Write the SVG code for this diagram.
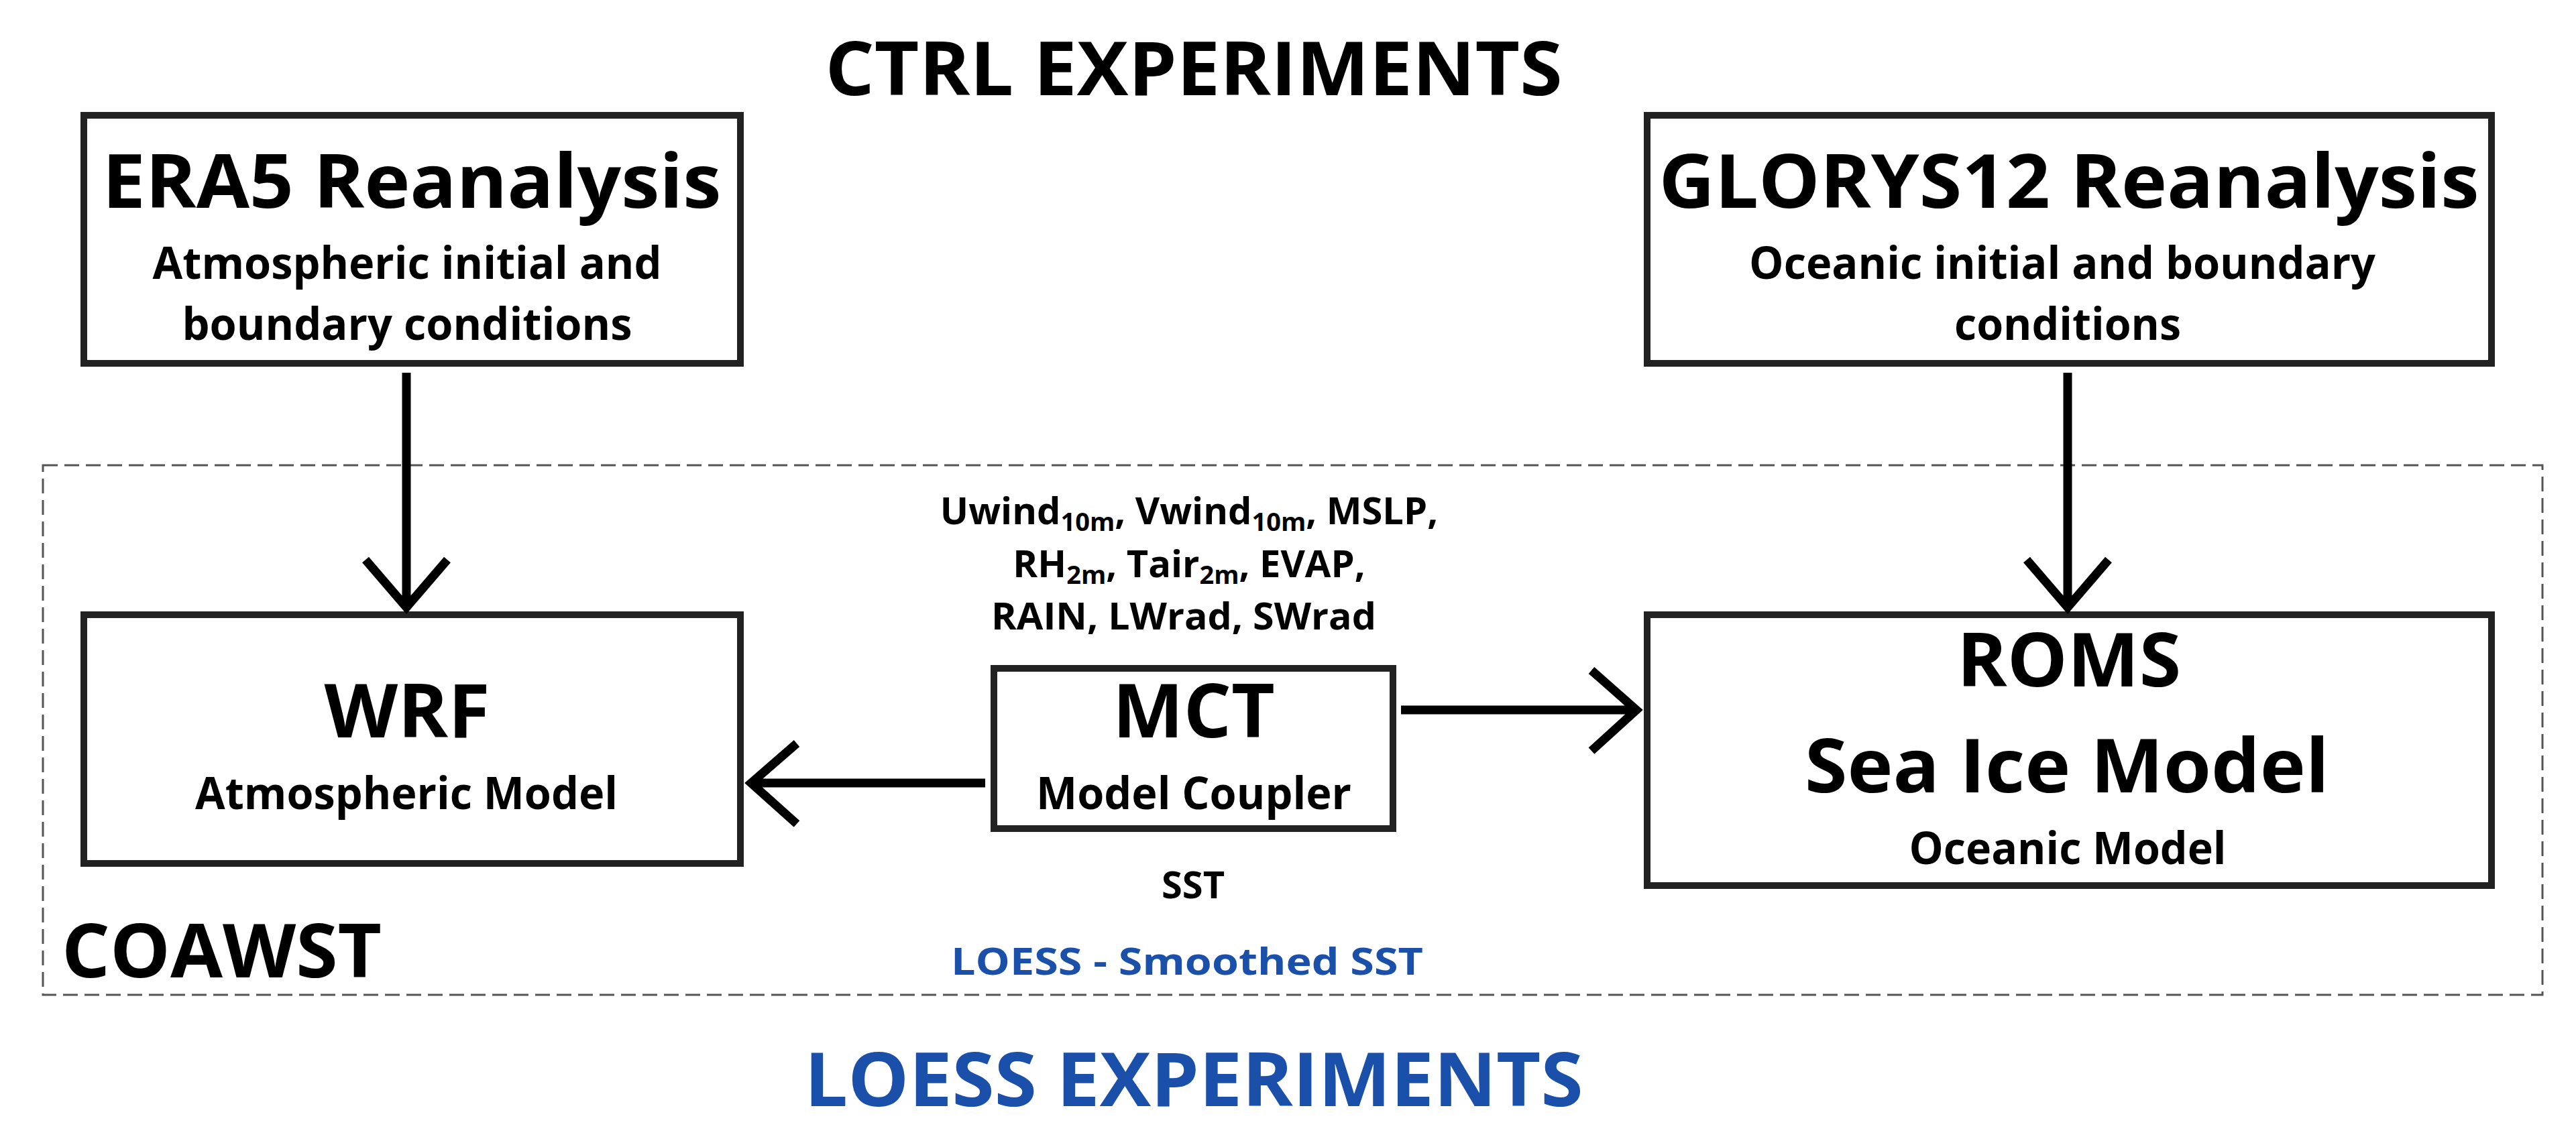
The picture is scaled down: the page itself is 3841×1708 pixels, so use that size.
<svg xmlns="http://www.w3.org/2000/svg" width="3841" height="1708" viewBox="0 0 3841 1708">
<style>
text{font-family:"Open Sans","Noto Sans",sans-serif;font-weight:bold;fill:#000;text-anchor:middle}
.box{fill:#fff;stroke:#222;stroke-width:10}
.big{font-size:112px}
.mid{font-size:66px}
.sm{font-size:56px}
.blue{fill:#1a4faa}
.ar{fill:none;stroke:#000;stroke-width:13}
sub{}
</style>
<rect width="3841" height="1708" fill="#fff"/>
<rect x="64" y="694" width="3727" height="790" fill="none" stroke="#555" stroke-width="3" stroke-dasharray="22 10"/>
<text class="big" x="1780" y="142" textLength="1099" lengthAdjust="spacingAndGlyphs">CTRL EXPERIMENTS</text>
<text class="big blue" x="1780" y="1650" textLength="1161" lengthAdjust="spacingAndGlyphs">LOESS EXPERIMENTS</text>
<text class="big" x="92" y="1458" style="text-anchor:start" textLength="477" lengthAdjust="spacingAndGlyphs">COAWST</text>
<g id="era5">
<rect class="box" x="125" y="172" width="979" height="370"/>
<text class="big" x="614" y="310" textLength="923" lengthAdjust="spacingAndGlyphs">ERA5 Reanalysis</text>
<text class="mid" x="607" y="416" textLength="759" lengthAdjust="spacingAndGlyphs">Atmospheric initial and</text>
<text class="mid" x="607" y="507" textLength="671" lengthAdjust="spacingAndGlyphs">boundary conditions</text>
</g>
<g id="glorys">
<rect class="box" x="2456" y="172" width="1259" height="370"/>
<text class="big" x="3085" y="310" textLength="1223" lengthAdjust="spacingAndGlyphs">GLORYS12 Reanalysis</text>
<text class="mid" x="3075" y="416" textLength="934" lengthAdjust="spacingAndGlyphs">Oceanic initial and boundary</text>
<text class="mid" x="3083" y="507" textLength="338" lengthAdjust="spacingAndGlyphs">conditions</text>
</g>
<g id="wrf">
<rect class="box" x="125" y="917" width="979" height="371"/>
<text class="big" x="607" y="1100" textLength="247" lengthAdjust="spacingAndGlyphs">WRF</text>
<text class="mid" x="606" y="1207" textLength="630" lengthAdjust="spacingAndGlyphs">Atmospheric Model</text>
</g>
<g id="mct">
<rect class="box" x="1482" y="997" width="595" height="239"/>
<text class="big" x="1780" y="1100">MCT</text>
<text class="mid" x="1780" y="1207" textLength="470" lengthAdjust="spacingAndGlyphs">Model Coupler</text>
</g>
<g id="roms">
<rect class="box" x="2456" y="917" width="1259" height="404"/>
<text class="big" x="3085" y="1024" textLength="334" lengthAdjust="spacingAndGlyphs">ROMS</text>
<text class="big" x="3082" y="1182" textLength="782" lengthAdjust="spacingAndGlyphs">Sea Ice Model</text>
<text class="mid" x="3083" y="1289" textLength="473" lengthAdjust="spacingAndGlyphs">Oceanic Model</text>
</g>
<g id="labels">
<text class="sm" x="1773" y="782">Uwind<tspan font-size="38" dy="10">10m</tspan><tspan dy="-10">, Vwind</tspan><tspan font-size="38" dy="10">10m</tspan><tspan dy="-10">, MSLP,</tspan></text>
<text class="sm" x="1773" y="861">RH<tspan font-size="38" dy="10">2m</tspan><tspan dy="-10">, Tair</tspan><tspan font-size="38" dy="10">2m</tspan><tspan dy="-10">, EVAP,</tspan></text>
<text class="sm" x="1765" y="939" textLength="574" lengthAdjust="spacingAndGlyphs">RAIN, LWrad, SWrad</text>
<text class="sm" x="1779" y="1340">SST</text>
<text class="sm blue" x="1770" y="1454" textLength="704" lengthAdjust="spacingAndGlyphs">LOESS - Smoothed SST</text>
</g>
<g id="connectors">
<path class="ar" d="M606 556V906M545 835L606 906L667 835"/>
<path class="ar" d="M3083 556V906M3022 835L3083 906L3144 835"/>
<path class="ar" d="M1469 1168H1120M1188 1109L1120 1168L1188 1229"/>
<path class="ar" d="M2089 1059H2440M2373 1000L2440 1059L2373 1120"/>
</g>
</svg>
